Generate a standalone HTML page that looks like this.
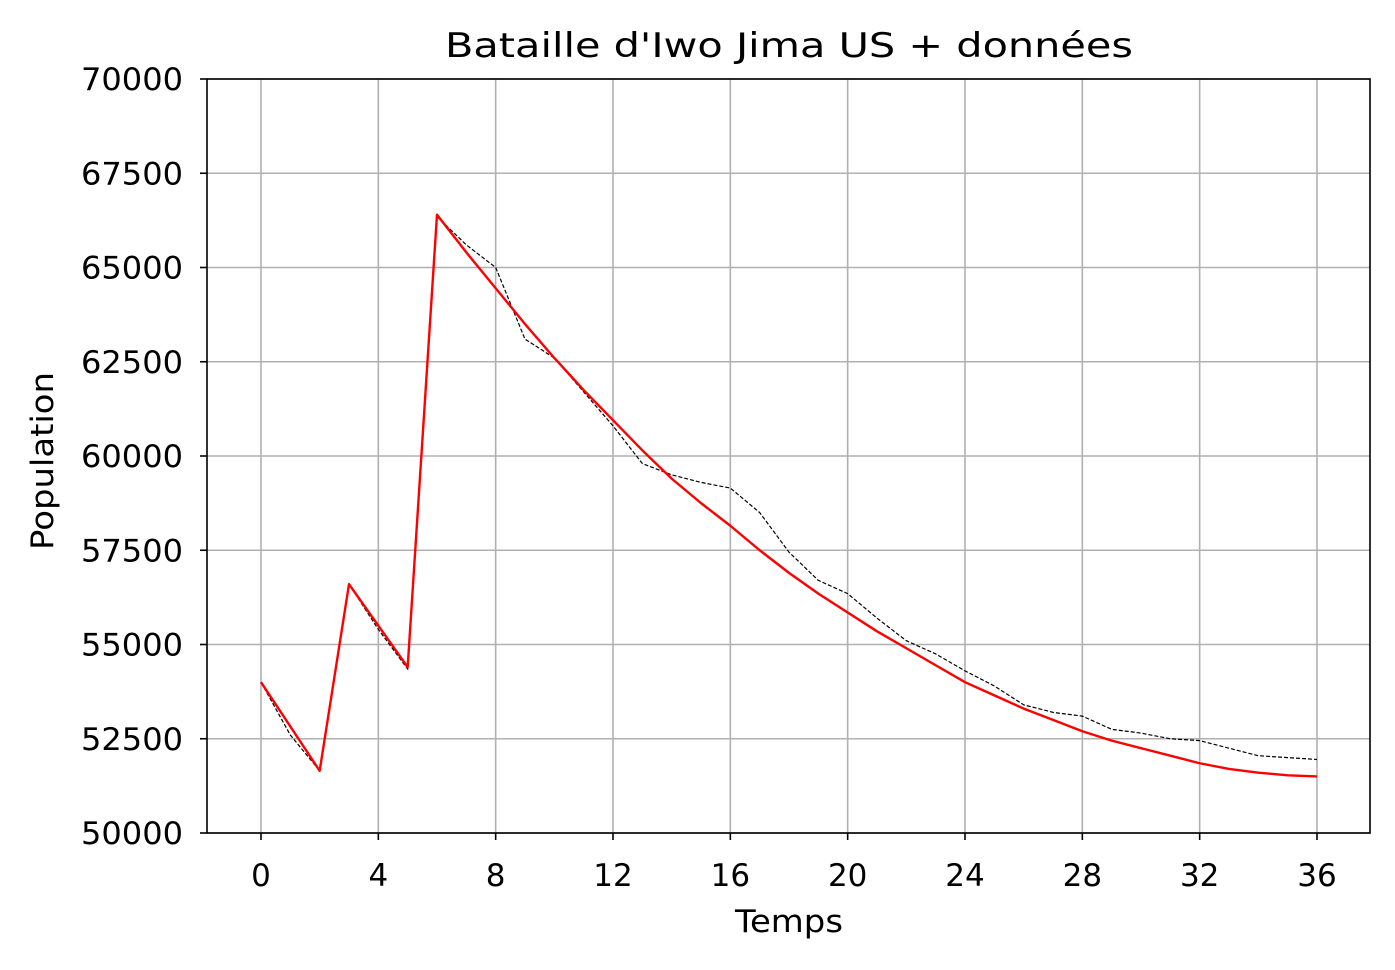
<!DOCTYPE html>
<html><head><meta charset="utf-8"><style>
body{margin:0;background:#fff}
text{font-family:"DejaVu Sans","Liberation Sans",sans-serif;fill:#000}
</style></head><body>
<svg id="chart" width="1395" height="965" xmlns="http://www.w3.org/2000/svg">
<rect width="1395" height="965" fill="#fff"/>
<g id="grid"></g>
<g id="series"></g>
<rect x="207" y="79" width="1163" height="754" fill="none" stroke="#000" stroke-width="1.6"/>
<g id="ticks"></g>
<text x="789" y="57" font-size="34" text-anchor="middle" textLength="688" lengthAdjust="spacingAndGlyphs">Bataille d'Iwo Jima US + données</text>
<text x="789" y="932" font-size="31" text-anchor="middle" textLength="108" lengthAdjust="spacingAndGlyphs">Temps</text>
<text x="0" y="0" font-size="31" text-anchor="middle" textLength="178" lengthAdjust="spacingAndGlyphs" transform="translate(53,461) rotate(-90)">Population</text>
</svg>
<script>
const xTicks=[0,4,8,12,16,20,24,28,32,36];
const yTicks=[50000,52500,55000,57500,60000,62500,65000,67500,70000];
const dataT=[0,1,2,3,4,5,6,7,8,9,10,11,12,13,14,15,16,17,18,19,20,21,22,23,24,25,26,27,28,29,30,31,32,33,34,35,36];
const dataVals=[54000,52600,51650,56600,55400,54350,66350,65600,65000,63100,62600,61700,60800,59800,59500,59300,59150,58500,57450,56700,56350,55700,55100,54750,54300,53900,53400,53200,53100,52750,52650,52500,52450,52250,52050,52000,51950];
const modelT=[0,2,3,5,6,7,8,9,10,11,12,13,14,15,16,17,18,19,20,21,22,23,24,25,26,27,28,29,30,31,32,33,34,35,36];
const modelVals=[54000,51650,56600,54400,66400,65400,64450,63500,62600,61750,60950,60150,59400,58750,58150,57500,56900,56350,55850,55350,54900,54450,54000,53650,53300,53000,52700,52450,52250,52050,51850,51700,51600,51530,51500];
const NS="http://www.w3.org/2000/svg";
const X=t=>261+(t-0)*(1317-261)/36;
const Y=v=>833-(v-50000)*(754/20000);
const grid=document.getElementById('grid'),ticks=document.getElementById('ticks'),series=document.getElementById('series');
function mk(tag,attrs,parent){const e=document.createElementNS(NS,tag);for(const k in attrs)e.setAttribute(k,attrs[k]);parent.appendChild(e);return e;}
xTicks.forEach(t=>{
 const g=mk('line',{x1:X(t),x2:X(t),y1:79,y2:833,stroke:'#b0b0b0','stroke-width':1.6},grid);
 
 
 const tk=mk('line',{x1:X(t),x2:X(t),y1:833,y2:840,stroke:'#000','stroke-width':1.6},ticks);
 
 
 const tx=mk('text',{x:X(t),y:886,'font-size':31,'text-anchor':'middle'},ticks);
 tx.textContent=t;
 
 
});
yTicks.forEach(v=>{
 const g=mk('line',{x1:207,x2:1370,y1:Y(v),y2:Y(v),stroke:'#b0b0b0','stroke-width':1.6},grid);
 
 
 const tk=mk('line',{x1:200,x2:207,y1:Y(v),y2:Y(v),stroke:'#000','stroke-width':1.6},ticks);
 
 
 const tx=mk('text',{x:183,y:Y(v)+11,'font-size':31,'text-anchor':'end',textLength:102,lengthAdjust:'spacingAndGlyphs'},ticks);
 tx.textContent=v;
 
 
});
const dp=mk('polyline',{points:dataT.map((t,i)=>X(t)+','+Y(dataVals[i])).join(' '),fill:'none',stroke:'#000','stroke-width':1.2,'stroke-dasharray':'4,2'},series);


const mp=mk('polyline',{points:modelT.map((t,i)=>X(t)+','+Y(modelVals[i])).join(' '),fill:'none',stroke:'#ff0000','stroke-width':2.4,'stroke-linejoin':'round'},series);


</script>
</body></html>
